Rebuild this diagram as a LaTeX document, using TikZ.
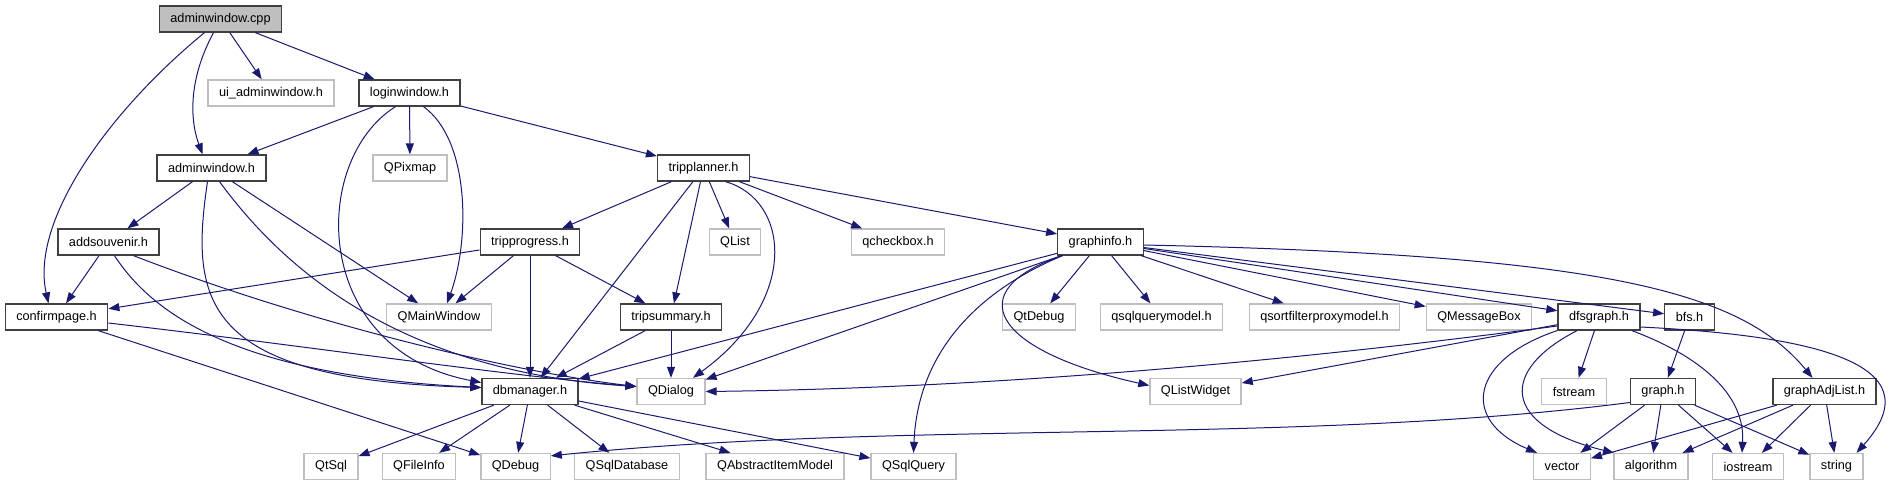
\documentclass[tikz,border=0pt]{standalone}
\usepackage{fontspec}
\setmainfont{Liberation Sans}
\usepackage{xcolor}
\usepackage{tikz}
\usetikzlibrary{arrows.meta, positioning}
\definecolor{edgeblue}{HTML}{191970}
\definecolor{boxgray}{HTML}{BFBFBF}
\definecolor{boxdark}{HTML}{404040}

\begin{document}
\begin{tikzpicture}[x=1pt, y=-1pt, font=\fontsize{12.7pt}{15pt}\selectfont,
  hdr/.style={draw=boxdark, line width=1.3pt, fill=white, minimum height=26pt, inner xsep=11pt, inner ysep=0pt},
  ext/.style={hdr, draw=boxgray},
  dep/.style={draw=edgeblue, line width=1pt, -{Triangle[length=11pt, width=8pt]}}]
\useasboundingbox (0,0) rectangle (1901,485);
\node[hdr, fill=boxgray] (cpp) at (220.5,19) {adminwindow.cpp};
\node[ext] (uiadm) at (271,93) {ui\_adminwindow.h};
\node[hdr] (login) at (409.5,93) {loginwindow.h};
\node[hdr] (admh) at (211.5,168) {adminwindow.h};
\node[ext] (qpixmap) at (410,168) {QPixmap};
\node[hdr] (planner) at (703.5,168) {tripplanner.h};
\node[hdr] (addsouv) at (108.5,242) {addsouvenir.h};
\node[hdr] (progress) at (530,242) {tripprogress.h};
\node[ext] (qlist) at (735,242) {QList};
\node[ext] (qcheckbox) at (898,242) {qcheckbox.h};
\node[hdr] (ginfo) at (1100.5,242) {graphinfo.h};
\node[hdr] (confirm) at (56.5,317) {confirmpage.h};
\node[ext] (qmainwin) at (439,317) {QMainWindow};
\node[hdr] (summary) at (671,317) {tripsummary.h};
\node[ext] (qtdebug) at (1039,317) {QtDebug};
\node[ext] (qsqlqm) at (1161.5,317) {qsqlquerymodel.h};
\node[ext] (qsortfpm) at (1324.5,317) {qsortfilterproxymodel.h};
\node[ext] (qmsgbox) at (1479,317) {QMessageBox};
\node[hdr] (dfs) at (1599,317) {dfsgraph.h};
\node[hdr] (bfs) at (1689.5,317) {bfs.h};
\node[hdr] (dbman) at (530,391.5) {dbmanager.h};
\node[ext] (qdialog) at (671,391.5) {QDialog};
\node[ext] (qlistw) at (1195.5,391.5) {QListWidget};
\node[ext] (fstream) at (1574,391.5) {fstream};
\node[hdr] (graph) at (1663,391.5) {graph.h};
\node[hdr] (adjlist) at (1824.5,391.5) {graphAdjList.h};
\node[ext] (qtsql) at (331,466.5) {QtSql};
\node[ext] (qfileinfo) at (419,466.5) {QFileInfo};
\node[ext] (qdebug) at (515.5,466.5) {QDebug};
\node[ext] (qsqldb) at (627,466.5) {QSqlDatabase};
\node[ext] (qaim) at (775,466.5) {QAbstractItemModel};
\node[ext] (qsqlquery) at (913.5,466.5) {QSqlQuery};
\node[ext] (vector) at (1562,466.5) {vector};
\node[ext] (algorithm) at (1651,466.5) {algorithm};
\node[ext] (iostream) at (1748,466.5) {iostream};
\node[ext] (string) at (1836.5,466.5) {string};
% adminwindow.cpp
\draw[dep] ([xshift=-16pt]cpp.south) .. controls (110,110) and (30,220) .. ([xshift=-8pt]confirm.north);
\draw[dep] ([xshift=-7pt]cpp.south) .. controls (188,80) and (190,120) .. ([xshift=-9pt]admh.north);
\draw[dep] (cpp) -- (uiadm);
\draw[dep] (cpp) -- (login);
% loginwindow.h
\draw[dep] (login) -- (admh);
\draw[dep] (login) -- (qpixmap);
\draw[dep] ([xshift=-14pt]login.south) .. controls (310,160) and (310,350) .. ([yshift=9pt]dbman.west);
\draw[dep] ([xshift=14pt]login.south) .. controls (470,140) and (470,240) .. ([xshift=8pt]qmainwin.north);
\draw[dep] (login) -- (planner);
% adminwindow.h
\draw[dep] (admh) -- (addsouv);
\draw[dep] (admh) -- (qmainwin);
\draw[dep] ([xshift=-4pt]admh.south) .. controls (190,300) and (200,380) .. ([yshift=4pt]dbman.west);
\draw[dep] ([xshift=8pt]admh.south) .. controls (270,250) and (380,370) .. ([yshift=5pt]qdialog.west);
% addsouvenir.h, confirmpage.h
\draw[dep] (addsouv) -- (confirm);
\draw[dep] ([xshift=6pt]addsouv.south) .. controls (150,310) and (230,375) .. ([yshift=4pt]dbman.west);
\draw[dep] ([xshift=25pt]addsouv.south) .. controls (300,320) and (500,370) .. ([yshift=5pt]qdialog.west);
\draw[dep] ([yshift=-6pt]confirm.east) .. controls (300,345) and (500,375) .. ([yshift=5pt]qdialog.west);
\draw[dep] (confirm) -- (qdebug);
% tripplanner.h
\draw[dep] (planner) -- (progress);
\draw[dep] (planner) -- (dbman);
\draw[dep] (planner) -- (summary);
\draw[dep] (planner) -- (qlist);
\draw[dep] ([xshift=22pt]planner.south) .. controls (790,200) and (800,300) .. ([xshift=22pt]qdialog.north);
\draw[dep] (planner) -- (qcheckbox);
\draw[dep] (planner) -- (ginfo);
% tripprogress.h, tripsummary.h
\draw[dep] (progress) -- (confirm);
\draw[dep] (progress) -- (qmainwin);
\draw[dep] (progress) -- (dbman);
\draw[dep] (progress) -- (summary);
\draw[dep] (summary) -- (dbman);
\draw[dep] (summary) -- (qdialog);
% dbmanager.h
\foreach \t in {qtsql, qfileinfo, qdebug, qsqldb, qaim, qsqlquery}
  \draw[dep] (dbman) -- (\t);
% graphinfo.h
\draw[dep] (ginfo) -- (dbman);
\draw[dep] (ginfo) -- (qdialog);
\draw[dep] ([xshift=-38pt]ginfo.south) .. controls (980,290) and (918,350) .. (qsqlquery.north);
\draw[dep] ([xshift=-38pt]ginfo.south) .. controls (960,290) and (990,350) .. ([yshift=6pt]qlistw.west);
\foreach \t in {qtdebug, qsqlqm, qsortfpm, qmsgbox, dfs, bfs}
  \draw[dep] (ginfo) -- (\t);
\draw[dep] ([yshift=-3pt]ginfo.east) .. controls (1600,255) and (1740,290) .. ([xshift=-12pt]adjlist.north);
% dfsgraph.h
\draw[dep] ([yshift=-9pt]dfs.west) .. controls (1300,360) and (1000,388) .. (qdialog.east);
\draw[dep] (dfs) -- (qlistw);
\draw[dep] (dfs) -- (fstream);
\draw[dep] ([xshift=-42pt]dfs.south) .. controls (1470,360) and (1460,420) .. ([xshift=-25pt]vector.north);
\draw[dep] ([xshift=-22pt]dfs.south) .. controls (1500,370) and (1500,425) .. ([xshift=-37pt]algorithm.north);
\draw[dep] ([xshift=33pt]dfs.south) .. controls (1710,360) and (1745,400) .. ([xshift=-6pt]iostream.north);
\draw[dep] ([yshift=-10pt]dfs.east) .. controls (1800,335) and (1940,360) .. ([xshift=20pt]string.north);
% bfs.h, graph.h, graphAdjList.h
\draw[dep] (bfs) -- (graph);
\draw[dep] ([yshift=-11pt]graph.west) .. controls (1300,445) and (900,420) .. ([yshift=-3pt]qdebug.north east);
\foreach \t in {vector, algorithm, iostream, string}
  \draw[dep] (graph) -- (\t);
\foreach \t in {vector, algorithm, iostream, string}
  \draw[dep] (adjlist) -- (\t);
\end{tikzpicture}
\end{document}
